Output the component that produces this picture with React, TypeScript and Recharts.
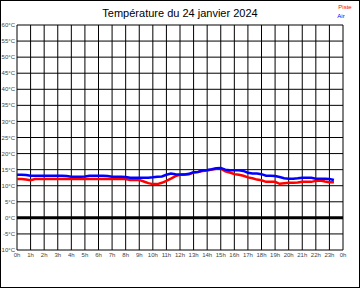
import { LineChart, Line, XAxis, YAxis, CartesianGrid, ReferenceLine } from 'recharts';

const SAMPLE_MINUTES = 20;

// Piste (track) temperature, one reading every 20 min from 0h
const piste = [
  12.1, 12.1, 11.9, 11.7, 12.1, 12.1, 12.1, 12.1, 12.1, 12.1,
  12.1, 12.1, 12.1, 12.1, 12.1, 12.1, 12.1, 12.1, 12.1, 12.1,
  12.1, 12.1, 12.1, 12.1, 12.1, 11.8, 11.8, 11.8, 11.3, 10.8,
  10.5, 10.5, 10.9, 11.5, 12.2, 13.0, 13.4, 13.5, 13.6, 14.1,
  14.3, 14.6, 14.7, 15.0, 15.3, 15.4, 14.5, 14.1, 13.6, 13.4,
  13.1, 12.6, 12.3, 11.9, 11.7, 11.2, 11.2, 11.2, 10.6, 10.8,
  10.9, 10.9, 11.0, 11.2, 11.2, 11.2, 11.5, 11.6, 11.3, 11.1,
  11.1,
];

// Air temperature, same timestamps
const air = [
  13.4, 13.4, 13.3, 13.1, 13.1, 13.1, 13.1, 13.1, 13.1, 13.1,
  13.1, 13.0, 12.8, 12.8, 12.8, 12.9, 13.1, 13.1, 13.1, 13.1,
  13.0, 12.8, 12.8, 12.8, 12.7, 12.5, 12.5, 12.5, 12.5, 12.5,
  12.6, 12.8, 12.9, 13.4, 13.8, 13.6, 13.5, 13.5, 13.7, 14.2,
  14.3, 14.8, 14.9, 15.1, 15.4, 15.5, 15.0, 14.8, 14.8, 14.8,
  14.6, 14.0, 13.8, 13.8, 13.6, 13.1, 13.1, 13.0, 12.7, 12.3,
  12.2, 12.2, 12.3, 12.5, 12.5, 12.5, 12.2, 12.2, 12.2, 12.1,
  11.8,
];

const hourTicks = [0, 1, 2, 3, 4, 5, 6, 7, 8, 9, 10, 11, 12, 13, 14, 15, 16, 17, 18, 19, 20, 21, 22, 23, 24];
const tempTicks = [-10, -5, 0, 5, 10, 15, 20, 25, 30, 35, 40, 45, 50, 55, 60];

const data = piste.map((p, i) => ({
  t: (i * SAMPLE_MINUTES) / 60,
  piste: p,
  air: air[i],
}));

const font = '"Liberation Sans", Arial, sans-serif';
const tickStyle = { fill: '#444', fontSize: 6, fontFamily: font };

export default function App() {
  return (
    <div
      style={{
        position: 'absolute',
        left: 0,
        top: 0,
        width: 360,
        height: 288,
        border: '1px solid #000',
        boxSizing: 'border-box',
        background: '#fff',
        fontFamily: font,
      }}
    >
      <div
        style={{
          position: 'absolute',
          top: 6,
          left: 0,
          width: 358,
          textAlign: 'center',
          fontSize: 11,
          color: '#000',
        }}
      >
        Température du 24 janvier 2024
      </div>
      <div style={{ position: 'absolute', top: 3, left: 324, width: 40, textAlign: 'center', fontSize: 6, color: '#ff0000' }}>
        Piste
      </div>
      <div style={{ position: 'absolute', top: 12, left: 320, width: 40, textAlign: 'center', fontSize: 6, color: '#0000ff' }}>
        Air
      </div>
      <div style={{ position: 'absolute', left: -1, top: -1 }}>
        <LineChart width={360} height={288} data={data} margin={{ top: 25, right: 17, bottom: 0, left: 0 }}>
          <CartesianGrid stroke="#000" strokeWidth={1} />
          <XAxis
            dataKey="t"
            type="number"
            domain={[0, 24]}
            ticks={hourTicks}
            tickFormatter={(v: number) => `${v % 24}h`}
            axisLine={false}
            tickLine={false}
            tickSize={3}
            tickMargin={0}
            height={38}
            tick={tickStyle}
            interval={0}
          />
          <YAxis
            type="number"
            domain={[-10, 60]}
            ticks={tempTicks}
            tickFormatter={(v: number) => `${v}°C`}
            axisLine={false}
            tickLine={false}
            tickSize={2}
            tickMargin={0}
            width={17}
            tick={tickStyle}
            interval={0}
          />
          <ReferenceLine y={0} stroke="#000" strokeWidth={3} />
          <Line type="linear" dataKey="piste" stroke="#ff0000" strokeWidth={2.5} dot={false} isAnimationActive={false} />
          <Line type="linear" dataKey="air" stroke="#0000ff" strokeWidth={2.5} dot={false} isAnimationActive={false} />
        </LineChart>
      </div>
    </div>
  );
}
